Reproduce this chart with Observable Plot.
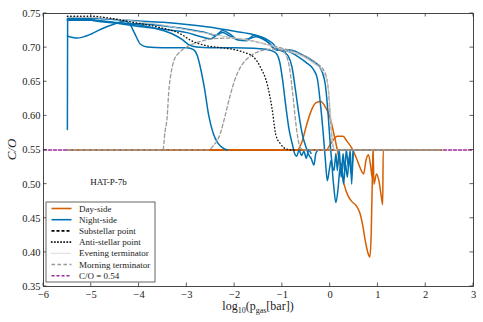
<!DOCTYPE html>
<html><head><meta charset="utf-8">
<script src="https://cdn.jsdelivr.net/npm/d3@7"></script>
<script src="https://cdn.jsdelivr.net/npm/@observablehq/plot@0.6"></script>
<style>
body{margin:0;background:#fff}
svg{font-family:"Liberation Serif",serif}
</style>
</head><body><div id="chart"></div>
<script>
// ---- axes ----
const xTicks = [-6,-5,-4,-3,-2,-1,0,1,2,3];
const yTicks = [0.35,0.40,0.45,0.50,0.55,0.60,0.65,0.70,0.75];

// ---- Day-side (orange) ----
const day1 = [[-5.5,0.55],[-0.7,0.55],[-0.6,0.56],[-0.5,0.585],[-0.4,0.607],[-0.3,0.619],[-0.2,0.621],[-0.1,0.613],[0,0.597],[0.07,0.576],[0.15,0.55],[0.22,0.525],[0.29,0.5],[0.38,0.482],[0.46,0.474],[0.55,0.468],[0.62,0.458],[0.68,0.44],[0.74,0.415],[0.8,0.397],[0.83,0.393],[0.86,0.43],[0.88,0.5],[0.9,0.55],[2.33,0.55]];
const day2 = [[-5.5,0.55],[-0.08,0.55],[0,0.558],[0.08,0.566],[0.15,0.57],[0.27,0.57],[0.35,0.563],[0.45,0.553],[0.55,0.538],[0.62,0.525],[0.7,0.515],[0.75,0.535],[0.8,0.543],[0.85,0.525],[0.88,0.51],[0.9,0.55],[0.915,0.5],[0.97,0.515],[1.02,0.505],[1.07,0.482],[1.1,0.47],[1.11,0.55],[2.33,0.55]];
const day3 = [[-5.5,0.55],[2.33,0.55]];

// ---- Night-side (blue) ----
const night1 = [[-5.5,0.58],[-5.495,0.742],[-5.3,0.743],[-5,0.743],[-4.5,0.741],[-4,0.739],[-3.5,0.737],[-3,0.734],[-2.5,0.73],[-2.0,0.724],[-1.6,0.719],[-1.35,0.713],[-1.2,0.706],[-1.1,0.698],[-0.95,0.697],[-0.8,0.696],[-0.6,0.69],[-0.4,0.682],[-0.25,0.674],[-0.17,0.665],[-0.1,0.645],[-0.04,0.6],[0.0,0.56],[0.04,0.53],[0.08,0.52],[0.12,0.545],[0.15,0.52],[0.19,0.55],[0.23,0.51],[0.27,0.545],[0.3,0.52],[0.34,0.55],[0.38,0.525],[0.42,0.55],[0.45,0.5],[0.48,0.55]];
const night2 = [[-5.5,0.74],[-5,0.74],[-4.5,0.736],[-4,0.731],[-3.5,0.727],[-3,0.722],[-2.7,0.716],[-2.5,0.713],[-2.35,0.72],[-2.25,0.725],[-2.1,0.72],[-1.95,0.712],[-1.75,0.71],[-1.6,0.718],[-1.45,0.715],[-1.3,0.708],[-1.2,0.7],[-1.05,0.696],[-0.9,0.695],[-0.7,0.688],[-0.5,0.678],[-0.35,0.668],[-0.27,0.655],[-0.2,0.615],[-0.14,0.57],[-0.1,0.535],[-0.06,0.505],[-0.02,0.52],[0.02,0.535],[0.07,0.5],[0.12,0.473],[0.16,0.49],[0.2,0.52],[0.24,0.53],[0.28,0.5],[0.32,0.53],[0.36,0.51],[0.4,0.54],[0.44,0.515],[0.48,0.545]];
const night3 = [[-5.5,0.717],[-5.3,0.714],[-5.0,0.72],[-4.8,0.727],[-4.5,0.735],[-4.3,0.739],[-4.2,0.735],[-4.1,0.722],[-3.97,0.705],[-3.83,0.701],[-3.5,0.7],[-3.0,0.7],[-2.86,0.697],[-2.78,0.688],[-2.72,0.672],[-2.63,0.64],[-2.54,0.6],[-2.45,0.575],[-2.35,0.56],[-2.25,0.553],[-2.15,0.55]];
const night4 = [[-5.5,0.743],[-5,0.741],[-4.5,0.737],[-4,0.733],[-3.6,0.727],[-3.3,0.72],[-3.1,0.712],[-2.95,0.704],[-2.8,0.701],[-2.5,0.7],[-2.0,0.7],[-1.6,0.699],[-1.3,0.697],[-1.15,0.693],[-1.06,0.68],[-1.0,0.655],[-0.93,0.615],[-0.86,0.58],[-0.79,0.558],[-0.74,0.544],[-0.7,0.541],[-0.65,0.55],[-0.6,0.542],[-0.55,0.548],[-0.5,0.538],[-0.45,0.55],[-0.4,0.545]];
const night5 = [[-5.5,0.741],[-5.2,0.742],[-4.8,0.738],[-4.4,0.736],[-4,0.735],[-3.5,0.732],[-3,0.727],[-2.6,0.722],[-2.4,0.718],[-2.25,0.722],[-2.1,0.717],[-1.9,0.711],[-1.7,0.713],[-1.55,0.716],[-1.4,0.712],[-1.25,0.705],[-1.15,0.697],[-1.0,0.695],[-0.88,0.688],[-0.8,0.672],[-0.72,0.635],[-0.65,0.6],[-0.58,0.572],[-0.5,0.553],[-0.45,0.543],[-0.4,0.538],[-0.34,0.528],[-0.3,0.545],[-0.25,0.55]];

// ---- Substellar point (black dashed) ----
const substellar = [[-5.5,0.55],[2.33,0.55]];
// ---- Anti-stellar point (black dotted) ----
const antistellar = [[-5.5,0.746],[-5.0,0.746],[-4.6,0.743],[-4.12,0.737],[-3.6,0.73],[-3.13,0.72],[-2.9,0.71],[-2.6,0.703],[-2.3,0.7],[-2.0,0.697],[-1.8,0.693],[-1.6,0.686],[-1.45,0.67],[-1.32,0.647],[-1.21,0.608],[-1.14,0.573],[-1.04,0.559],[-0.9,0.551],[-0.76,0.55],[-0.7,0.55]];
// ---- Evening terminator (light grey dotted) ----
const evening = [[-5.5,0.745],[-4.5,0.742],[-4,0.738],[-3.5,0.733],[-3,0.726],[-2.5,0.72],[-2,0.714],[-1.5,0.708],[-1.2,0.702],[-0.9,0.695],[-0.6,0.688],[-0.35,0.677],[-0.15,0.665],[-0.05,0.645],[0.0,0.61],[0.04,0.57],[0.08,0.552],[0.15,0.55]];
// ---- Morning terminator (grey dashed) ----
const morning1 = [[-5.5,0.55],[-3.5,0.55],[-3.46,0.575],[-3.41,0.6],[-3.38,0.634],[-3.33,0.663],[-3.26,0.683],[-3.17,0.692],[-3.0,0.701],[-2.72,0.709],[-2.44,0.713],[-2.1,0.714],[-1.8,0.712],[-1.4,0.706],[-1.0,0.699],[-0.6,0.69],[-0.3,0.678],[-0.12,0.665],[-0.04,0.64],[0.0,0.6],[0.04,0.565],[0.08,0.552],[0.12,0.55],[2.33,0.55]];
const morning2 = [[-5.5,0.55],[-2.55,0.55],[-2.45,0.556],[-2.3,0.574],[-2.2,0.6],[-2.1,0.628],[-2.0,0.652],[-1.88,0.671],[-1.7,0.686],[-1.46,0.695],[-1.2,0.698],[-1.0,0.696],[-0.93,0.69],[-0.85,0.67],[-0.78,0.63],[-0.72,0.59],[-0.67,0.565],[-0.62,0.553],[-0.55,0.55],[2.33,0.55]];
// ---- C/O = 0.54 reference (purple dashed) ----
const coRef = [[-6,0.55],[3,0.55]];

// ---- annotation & legend text ----
const annX = [-4.64], annY = [0.503], annText = ["HAT-P-7b"];
const legendLabels = ["Day-side","Night-side","Substellar point","Anti-stellar point","Evening terminator","Morning terminator","C/O = 0.54"];

const ORANGE = "#d55e00", BLUE = "#0072b2", PURPLE = "#9a2a9a", GREY = "#999999", LGREY = "#c4c4c4";
const legendStyles = [
  {stroke: ORANGE, dash: null, w: 1.6},
  {stroke: BLUE, dash: null, w: 1.6},
  {stroke: "#000", dash: "3,2", w: 1.6},
  {stroke: "#000", dash: "0.5,2.6", w: 1.6, cap: "round"},
  {stroke: LGREY, dash: "1,1", w: 1.2},
  {stroke: GREY, dash: "3.5,2.5", w: 1.3},
  {stroke: PURPLE, dash: "3,2", w: 1.6}
];

const tab = (groups) => groups.flatMap(([name, arr]) => arr.map(([x, y]) => ({x, y, s: name})));
const dayData = tab([["d1", day1], ["d2", day2], ["d3", day3]]);
const nightData = tab([["n1", night1], ["n2", night2], ["n3", night3], ["n4", night4], ["n5", night5]]);
const morningData = tab([["m1", morning1], ["m2", morning2]]);

const fmtX = d => d < 0 ? "\u2212" + (-d) : String(d);

const chart = Plot.plot({
  width: 483, height: 322,
  marginLeft: 43, marginRight: 10, marginTop: 13, marginBottom: 36,
  style: {fontFamily: "Liberation Serif, serif", fontSize: "10.5px", background: "#fff"},
  x: {domain: [-6, 3]},
  y: {domain: [0.35, 0.75]},
  marks: [
    Plot.line(tab([["c", coRef]]), {x: "x", y: "y", stroke: PURPLE, strokeWidth: 1.6, strokeDasharray: "3,2"}),
    Plot.line(tab([["sub", substellar]]), {x: "x", y: "y", stroke: "#000", strokeWidth: 1.4, strokeDasharray: "3,2"}),
    Plot.line(dayData, {x: "x", y: "y", z: "s", stroke: ORANGE, strokeWidth: 1.5, curve: "monotone-x"}),
    Plot.line(nightData, {x: "x", y: "y", z: "s", stroke: BLUE, strokeWidth: 1.5, curve: "monotone-x"}),
    Plot.line(morningData, {x: "x", y: "y", z: "s", stroke: GREY, strokeWidth: 1.3, strokeDasharray: "3.5,2.5", curve: "monotone-x"}),
    Plot.line(tab([["e", evening]]), {x: "x", y: "y", stroke: LGREY, strokeWidth: 1.1, strokeDasharray: "1,1", curve: "monotone-x"}),
    Plot.line(tab([["a", antistellar]]), {x: "x", y: "y", stroke: "#111", strokeWidth: 1.4, strokeDasharray: "0.5,2.8", strokeLinecap: "round", curve: "monotone-x"}),
    Plot.text(annText.map((t, i) => ({x: annX[i], y: annY[i], t})), {x: "x", y: "y", text: "t", fontSize: 9, fill: "#111"}),
    Plot.frame({stroke: "#333", strokeWidth: 0.9}),
    Plot.axisX(xTicks, {tickSize: 0, tickPadding: 4, tickFormat: fmtX, label: null, fill: "#222"}),
    Plot.axisY(yTicks, {tickSize: 0, tickPadding: 3, tickFormat: d3.format(".2f"), label: null, fill: "#222"})
  ]
});

const svg = d3.select(chart.tagName.toLowerCase() === "svg" ? chart : chart.querySelector("svg"));
const sx = chart.scale("x"), sy = chart.scale("y");
const X0 = sx.apply(-6), X1 = sx.apply(3), Y0 = sy.apply(0.35), Y1 = sy.apply(0.75);
const TL = 3.5;
const tg = svg.append("g").attr("stroke", "#333").attr("stroke-width", 0.8);
xTicks.forEach(v => {
  const px = sx.apply(v);
  tg.append("line").attr("x1", px).attr("x2", px).attr("y1", Y0).attr("y2", Y0 - TL);
  tg.append("line").attr("x1", px).attr("x2", px).attr("y1", Y1).attr("y2", Y1 + TL);
});
yTicks.forEach(v => {
  const py = sy.apply(v);
  tg.append("line").attr("y1", py).attr("y2", py).attr("x1", X0).attr("x2", X0 + TL);
  tg.append("line").attr("y1", py).attr("y2", py).attr("x1", X1).attr("x2", X1 - TL);
});

// axis titles
const xl = svg.append("text").attr("x", (X0 + X1) / 2).attr("y", 310).attr("text-anchor", "middle")
  .attr("font-size", 12).attr("fill", "#222");
xl.append("tspan").text("log");
xl.append("tspan").attr("font-size", 8).attr("dy", 3).text("10");
xl.append("tspan").attr("dy", -3).text("(p");
xl.append("tspan").attr("font-size", 8).attr("dy", 3).text("gas");
xl.append("tspan").attr("dy", -3).text("[bar])");
svg.append("text").attr("transform", `translate(16,${(Y0 + Y1) / 2}) rotate(-90)`)
  .attr("text-anchor", "middle").attr("font-size", 13).attr("font-style", "italic").attr("fill", "#222").text("C/O");

// legend
const lg = svg.append("g");
const LX = X0 + 3, LY = 202, LW = 109, LH = 80, row = 11.2;
lg.append("rect").attr("x", LX).attr("y", LY).attr("width", LW).attr("height", LH)
  .attr("fill", "#fff").attr("stroke", "#555").attr("stroke-width", 0.9);
legendLabels.forEach((lab, i) => {
  const st = legendStyles[i];
  const yy = LY + 6.5 + i * row;
  lg.append("line").attr("x1", LX + 5.5).attr("x2", LX + 25.5).attr("y1", yy).attr("y2", yy)
    .attr("stroke", st.stroke).attr("stroke-width", st.w)
    .attr("stroke-dasharray", st.dash).attr("stroke-linecap", st.cap || "butt");
  lg.append("text").attr("x", LX + 33).attr("y", yy + 3).attr("text-anchor", "start")
    .attr("font-size", 9).attr("fill", "#222").text(lab);
});

document.getElementById("chart").append(chart);
</script>
</body></html>
